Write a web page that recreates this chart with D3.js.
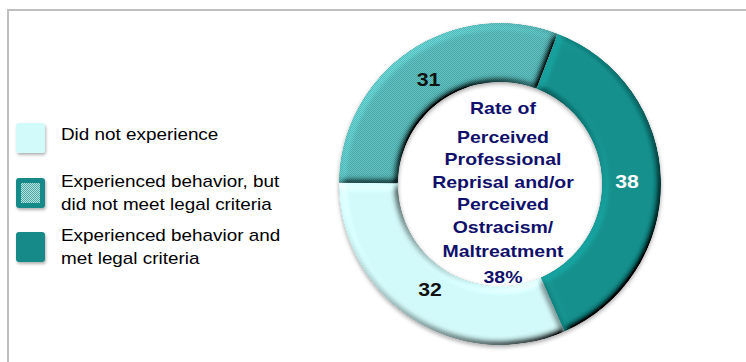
<!DOCTYPE html>
<html>
<head>
<meta charset="utf-8">
<script src="https://cdn.jsdelivr.net/npm/d3@7/dist/d3.min.js"></script>
<style>
  html, body { margin: 0; padding: 0; background: #fff; }
  svg { display: block; }
  text { font-family: "Liberation Sans", Arial, sans-serif; }
</style>
</head>
<body>
<svg id="chart" width="746" height="362"></svg>
<script>
// Survey outcome categories (legend order) and their counts
const categories = [
  "Did not experience",
  "Experienced behavior, but did not meet legal criteria",
  "Experienced behavior and met legal criteria"
];
const values = [32, 31, 38];
const legendLines = [
  ["Did not experience"],
  ["Experienced behavior, but", "did not meet legal criteria"],
  ["Experienced behavior and", "met legal criteria"]
];
const centerTitle = ["Rate of", "Perceived", "Professional", "Reprisal and/or",
                     "Perceived", "Ostracism/", "Maltreatment"];
const headlineValue = values[2]; // share that met legal criteria

const fills = ["#d3fafa", "url(#dots)", "#13908d"];
const labelColors = ["#111", "#111", "#ffffff"];

const W = 746, H = 362;
const cx = 500, cy = 184, rOuter = 161, rInner = 102;
const textStretch = 1.18;

const svg = d3.select("#chart");
const defs = svg.append("defs");

// fine dithered texture for the middle category
const dots = defs.append("pattern").attr("id", "dots")
  .attr("width", 2).attr("height", 2).attr("patternUnits", "userSpaceOnUse");
dots.append("rect").attr("width", 2).attr("height", 2).attr("fill", "#64c1c1");
dots.append("rect").attr("x", 0).attr("y", 0).attr("width", 1).attr("height", 1).attr("fill", "#48a8a8");
dots.append("rect").attr("x", 1).attr("y", 1).attr("width", 1).attr("height", 1).attr("fill", "#48a8a8");

const dotsLegend = defs.append("pattern").attr("id", "dotsLegend")
  .attr("width", 2).attr("height", 2).attr("patternUnits", "userSpaceOnUse");
dotsLegend.append("rect").attr("width", 2).attr("height", 2).attr("fill", "#b4e4e2");
dotsLegend.append("rect").attr("width", 1).attr("height", 1).attr("fill", "#4aa5a3");
dotsLegend.append("rect").attr("x", 1).attr("y", 1).attr("width", 1).attr("height", 1).attr("fill", "#4aa5a3");

// bevel: diffuse lighting on the blurred alpha, multiplied with the fill
const bevel = defs.append("filter").attr("id", "bevel")
  .attr("x", "-5%").attr("y", "-5%").attr("width", "110%").attr("height", "110%");
bevel.append("feGaussianBlur").attr("in", "SourceAlpha").attr("stdDeviation", 3.5).attr("result", "blur");
bevel.append("feDiffuseLighting").attr("in", "blur").attr("surfaceScale", 6)
  .attr("diffuseConstant", 1).attr("lighting-color", "#fff").attr("result", "light")
  .append("feDistantLight").attr("azimuth", 225).attr("elevation", 50);
bevel.append("feComposite").attr("in", "SourceGraphic").attr("in2", "light")
  .attr("operator", "arithmetic").attr("k1", 1.31).attr("k2", 0).attr("k3", 0).attr("k4", 0)
  .attr("result", "lit");
bevel.append("feComposite").attr("in", "lit").attr("in2", "SourceAlpha").attr("operator", "in");

const shadow = defs.append("filter").attr("id", "shadow")
  .attr("x", "-20%").attr("y", "-20%").attr("width", "140%").attr("height", "140%");
shadow.append("feDropShadow").attr("dx", 1).attr("dy", 2).attr("stdDeviation", 1.5)
  .attr("flood-color", "#000").attr("flood-opacity", 0.3);

const ringShadow = defs.append("filter").attr("id", "ringShadow")
  .attr("x", "-10%").attr("y", "-10%").attr("width", "120%").attr("height", "120%");
ringShadow.append("feDropShadow").attr("dx", 0).attr("dy", 2).attr("stdDeviation", 2)
  .attr("flood-color", "#000").attr("flood-opacity", 0.35);

svg.append("rect").attr("width", W).attr("height", H).attr("fill", "#fff");

// frame lines on top and left
svg.append("path").attr("d", `M8,${H} V10 H${W}`)
  .attr("fill", "none").attr("stroke", "#bfbfbf").attr("stroke-width", 2);

// donut
const pie = d3.pie().sort(null)
  .startAngle(156.4 * Math.PI / 180)
  .endAngle(156.4 * Math.PI / 180 + 2 * Math.PI);
const arcs = pie(values);
const arc = d3.arc().innerRadius(rInner).outerRadius(rOuter);
const labelArc = d3.arc().innerRadius(127).outerRadius(127);

const ring = svg.append("g").attr("transform", `translate(${cx},${cy})`);
const ringInner = ring.append("g").attr("filter", "url(#ringShadow)");
ringInner.selectAll("path").data(arcs).join("path")
  .attr("d", arc)
  .attr("fill", (d, i) => fills[i])
  .attr("filter", "url(#bevel)");

ring.selectAll("text.val").data(arcs).join("text")
  .attr("class", "val")
  .attr("transform", d => {
    const [x, y] = labelArc.centroid(d);
    return `translate(${x},${y}) scale(${textStretch},1)`;
  })
  .attr("text-anchor", "middle").attr("dy", "0.36em")
  .attr("font-size", 18).attr("font-weight", "bold")
  .attr("fill", (d, i) => labelColors[i])
  .text(d => d.value);

// centre caption
const baselines = [114, 143, 165, 188, 210, 233, 257];
const caption = svg.append("g").attr("fill", "#10106b")
  .attr("font-size", 16.5).attr("font-weight", "bold").attr("text-anchor", "middle");
centerTitle.forEach((t, i) => {
  caption.append("text")
    .attr("transform", `translate(${cx + 3},${baselines[i]}) scale(${textStretch},1)`)
    .text(t);
});
caption.append("text")
  .attr("transform", `translate(${cx + 3},283) scale(${textStretch},1)`)
  .text(headlineValue + "%");

// legend
const legendTop = [123, 178, 232];
const legend = svg.append("g");
categories.forEach((c, i) => {
  const g = legend.append("g").attr("transform", `translate(16,${legendTop[i]})`);
  g.append("rect").attr("width", 29).attr("height", 30).attr("rx", 3)
    .attr("fill", i === 0 ? "#d3fafa" : "#168a88").attr("filter", "url(#shadow)");
  if (i === 1) {
    g.append("rect").attr("x", 5).attr("y", 5).attr("width", 19).attr("height", 20)
      .attr("fill", "url(#dotsLegend)");
  }
  const lines = legendLines[i];
  const firstBase = lines.length === 1 ? 17 : 9;
  lines.forEach((ln, j) => {
    g.append("text")
      .attr("transform", `translate(45,${firstBase + j * 23}) scale(${textStretch},1)`)
      .attr("font-size", 16).attr("fill", "#000")
      .text(ln);
  });
});
</script>
</body>
</html>
